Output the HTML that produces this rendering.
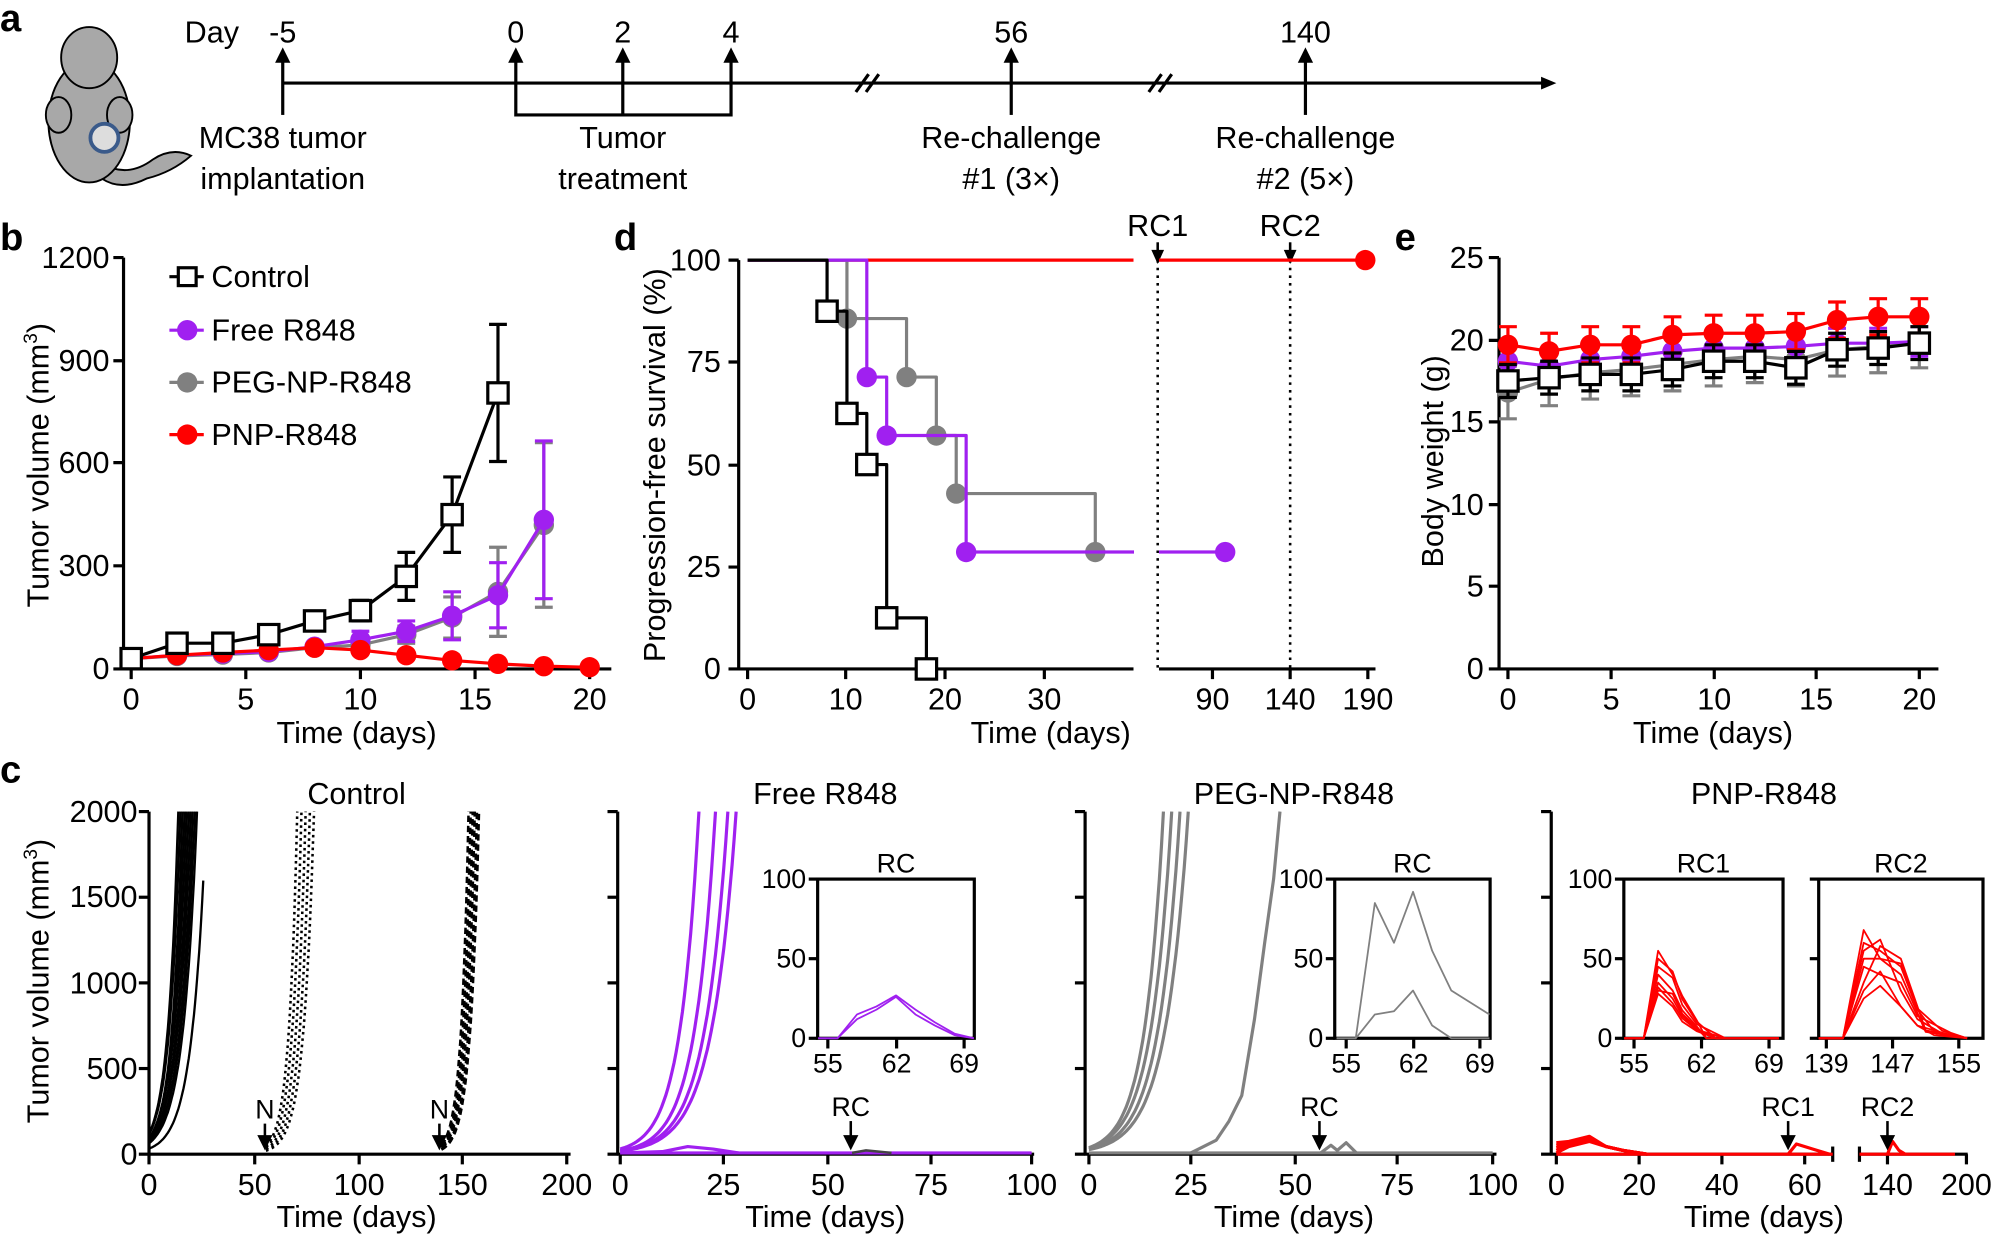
<!DOCTYPE html>
<html><head><meta charset="utf-8">
<style>
html,body{margin:0;padding:0;background:#fff;}
svg{display:block;}
text{font-family:"Liberation Sans",Arial,sans-serif;fill:#000;}
</style></head>
<body>
<svg id="s" width="1997" height="1236" viewBox="0 0 1568 970" xmlns="http://www.w3.org/2000/svg">
<g font-size="24">
<!-- Panel a -->
<text x="0" y="24" font-size="30" font-weight="bold">a</text>
<g stroke="#000" stroke-width="1.5">
<path d="M80,128 Q100,140 120,125 Q135,115 150,122 Q135,135 115,140 Q95,150 80,140z" fill="#a8a8a8"/>
<ellipse cx="70" cy="95" rx="32" ry="48" fill="#a8a8a8"/>
<ellipse cx="70" cy="45" rx="22" ry="24" fill="#a8a8a8"/>
<ellipse cx="46" cy="90" rx="10" ry="14" fill="#a8a8a8"/>
<ellipse cx="94" cy="90" rx="10" ry="14" fill="#a8a8a8"/>
</g>
<circle cx="82" cy="108" r="11" fill="#ddd" stroke="#3a5a8a" stroke-width="3"/>
<g stroke="#000" stroke-width="2.5" fill="none">
<line x1="222" y1="65" x2="1215" y2="65"/>
<line x1="222" y1="90" x2="222" y2="45"/>
<polyline points="405,45 405,90 574,90 574,45"/>
<line x1="489" y1="90" x2="489" y2="45"/>
<line x1="794" y1="90" x2="794" y2="45"/>
<line x1="1025" y1="90" x2="1025" y2="45"/>
<path d="M672,72 L682,58 M680,72 L690,58"/>
<path d="M902,72 L912,58 M910,72 L920,58"/>
</g>
<g fill="#000">
<path d="M1222,65 L1210,60 L1210,70 z"/>
<path d="M222,37 L216,49 L228,49 z"/><path d="M405,37 L399,49 L411,49 z"/><path d="M489,37 L483,49 L495,49 z"/><path d="M574,37 L568,49 L580,49 z"/><path d="M794,37 L788,49 L800,49 z"/><path d="M1025,37 L1019,49 L1031,49 z"/>
</g>
<text x="145" y="33">Day</text>
<g text-anchor="middle">
<text x="222" y="33">-5</text><text x="405" y="33">0</text><text x="489" y="33">2</text><text x="574" y="33">4</text><text x="794" y="33">56</text><text x="1025" y="33">140</text>
<text x="222" y="116">MC38 tumor</text><text x="222" y="148">implantation</text>
<text x="489" y="116">Tumor</text><text x="489" y="148">treatment</text>
<text x="794" y="116">Re-challenge</text><text x="794" y="148">#1 (3×)</text>
<text x="1025" y="116">Re-challenge</text><text x="1025" y="148">#2 (5×)</text>
</g>

<!-- Panel b -->
<text x="0" y="196" font-size="30" font-weight="bold">b</text>
<g stroke="#000" stroke-width="2.5" fill="none">
<polyline points="97,202 97,525 480,525"/>
<path d="M89,202h8M89,283h8M89,363h8M89,444h8M89,525h8"/>
<path d="M103,525v8M193,525v8M283,525v8M373,525v8M463,525v8"/>
</g>
<g text-anchor="end"><text x="86" y="210">1200</text><text x="86" y="291">900</text><text x="86" y="371">600</text><text x="86" y="452">300</text><text x="86" y="533">0</text></g>
<g text-anchor="middle"><text x="103" y="557">0</text><text x="193" y="557">5</text><text x="283" y="557">10</text><text x="373" y="557">15</text><text x="463" y="557">20</text>
<text x="280" y="583">Time (days)</text></g>
<text transform="translate(38,365) rotate(-90)" text-anchor="middle">Tumor volume (mm<tspan font-size="15" dy="-9">3</tspan><tspan dy="9">)</tspan></text>
<g id="bdata"></g>
<g>
<line x1="133" y1="217" x2="160" y2="217" stroke="#000" stroke-width="2.5"/><rect x="140" y="210" width="14" height="14" fill="#fff" stroke="#000" stroke-width="2.5"/><text x="166" y="225">Control</text>
<line x1="133" y1="259" x2="160" y2="259" stroke="#a020f0" stroke-width="2.5"/><circle cx="147" cy="259" r="8" fill="#a020f0"/><text x="166" y="267">Free R848</text>
<line x1="133" y1="300" x2="160" y2="300" stroke="#808080" stroke-width="2.5"/><circle cx="147" cy="300" r="8" fill="#808080"/><text x="166" y="308">PEG-NP-R848</text>
<line x1="133" y1="341" x2="160" y2="341" stroke="#f00" stroke-width="2.5"/><circle cx="147" cy="341" r="8" fill="#f00"/><text x="166" y="349">PNP-R848</text>
</g>

<!-- Panel d -->
<text x="482" y="196" font-size="30" font-weight="bold">d</text>
<g stroke="#000" stroke-width="2.5" fill="none">
<polyline points="580,204 580,525 890,525"/><line x1="910" y1="525" x2="1080" y2="525"/>
<path d="M572,204h8M572,284h8M572,365h8M572,445h8M572,525h8"/>
<path d="M587,525v8M664,525v8M742,525v8M820,525v8M952,525v8M1013,525v8M1074,525v8"/>
</g>
<g text-anchor="end"><text x="566" y="212">100</text><text x="566" y="292">75</text><text x="566" y="373">50</text><text x="566" y="453">25</text><text x="566" y="533">0</text></g>
<g text-anchor="middle"><text x="587" y="557">0</text><text x="664" y="557">10</text><text x="742" y="557">20</text><text x="820" y="557">30</text><text x="952" y="557">90</text><text x="1013" y="557">140</text><text x="1074" y="557">190</text>
<text x="825" y="583">Time (days)</text>
<text x="909" y="185">RC1</text><text x="1013" y="185">RC2</text></g>
<text transform="translate(522,365) rotate(-90)" text-anchor="middle">Progression-free survival (%)</text>
<g stroke="#000" stroke-width="2" stroke-dasharray="2,4"><line x1="909" y1="204" x2="909" y2="525"/><line x1="1013" y1="204" x2="1013" y2="525"/></g>
<g stroke="#000" stroke-width="2"><line x1="909" y1="190" x2="909" y2="200"/><line x1="1013" y1="190" x2="1013" y2="200"/></g>
<path d="M909,207 L904,196 L914,196z M1013,207 L1008,196 L1018,196z" fill="#000"/>
<g id="ddata"></g>

<!-- Panel e -->
<text x="1095" y="196" font-size="30" font-weight="bold">e</text>
<g stroke="#000" stroke-width="2.5" fill="none">
<polyline points="1177,202 1177,525 1522,525"/>
<path d="M1169,202h8M1169,267h8M1169,331h8M1169,396h8M1169,460h8M1169,525h8"/>
<path d="M1184,525v8M1265,525v8M1346,525v8M1426,525v8M1507,525v8"/>
</g>
<g text-anchor="end"><text x="1165" y="210">25</text><text x="1165" y="275">20</text><text x="1165" y="339">15</text><text x="1165" y="404">10</text><text x="1165" y="468">5</text><text x="1165" y="533">0</text></g>
<g text-anchor="middle"><text x="1184" y="557">0</text><text x="1265" y="557">5</text><text x="1346" y="557">10</text><text x="1426" y="557">15</text><text x="1507" y="557">20</text>
<text x="1345" y="583">Time (days)</text></g>
<text transform="translate(1133,362) rotate(-90)" text-anchor="middle">Body weight (g)</text>
<g id="edata"></g>

<!-- Panel c -->
<text x="0" y="614" font-size="30" font-weight="bold">c</text>
<text transform="translate(38,770) rotate(-90)" text-anchor="middle">Tumor volume (mm<tspan font-size="15" dy="-9">3</tspan><tspan dy="9">)</tspan></text>
<g text-anchor="middle">
<text x="280" y="631">Control</text><text x="648" y="631">Free R848</text><text x="1016" y="631">PEG-NP-R848</text><text x="1385" y="631">PNP-R848</text>
<text x="280" y="963">Time (days)</text><text x="648" y="963">Time (days)</text><text x="1016" y="963">Time (days)</text><text x="1385" y="963">Time (days)</text>
</g>
<g text-anchor="end"><text x="108" y="645">2000</text><text x="108" y="712">1500</text><text x="108" y="780">1000</text><text x="108" y="847">500</text><text x="108" y="914">0</text></g>
<g id="cdata"></g>
</g>
</svg>
<script>
const NS="http://www.w3.org/2000/svg";
function el(par,tag,attrs,txt){const e=document.createElementNS(NS,tag);for(const k in attrs)e.setAttribute(k,attrs[k]);if(txt!==undefined)e.textContent=txt;document.getElementById(par).appendChild(e);return e;}
function pl(par,pts,col,w,extra){const a={points:pts.map(p=>p[0].toFixed(1)+","+p[1].toFixed(1)).join(" "),fill:"none",stroke:col,"stroke-width":w||2.5,"stroke-linejoin":"round"};Object.assign(a,extra||{});return el(par,"polyline",a);}
// Panel b
const bx=d=>103+18*d, by=v=>525-v*0.2692;
function bser(data,col,marker,errs){
  errs.forEach(([d,v,e])=>{ if(e>0){el("bdata","line",{x1:bx(d),y1:by(v-e),x2:bx(d),y2:by(v+e),stroke:col,"stroke-width":2.5});[v-e,v+e].forEach(y=>el("bdata","line",{x1:bx(d)-7,y1:by(y),x2:bx(d)+7,y2:by(y),stroke:col,"stroke-width":2.5}));}});
  pl("bdata",data.map(([d,v])=>[bx(d),by(v)]),col,2.5);
  data.forEach(([d,v])=>{ if(marker==="sq") el("bdata","rect",{x:bx(d)-8,y:by(v)-8,width:16,height:16,fill:"#fff",stroke:col,"stroke-width":2.5}); else el("bdata","circle",{cx:bx(d),cy:by(v),r:8,fill:col});});
}
const peg=[[0,30],[2,38],[4,42],[6,48],[8,62],[10,70],[12,100],[14,150],[16,225],[18,420]];
bser(peg,"#808080","c",[[12,100,25],[14,150,60],[16,225,130],[18,420,240]]);
const fr=[[0,30],[2,40],[4,45],[6,50],[8,65],[10,85],[12,110],[14,155],[16,215],[18,435]];
bser(fr,"#a020f0","c",[[10,85,25],[12,110,30],[14,155,70],[16,215,95],[18,435,230]]);
const pn=[[0,30],[2,40],[4,48],[6,55],[8,62],[10,55],[12,40],[14,25],[16,15],[18,8],[20,5]];
bser(pn,"#ff0000","c",[]);
const ct=[[0,30],[2,75],[4,75],[6,100],[8,140],[10,170],[12,270],[14,450],[16,805]];
bser(ct,"#000","sq",[[10,170,30],[12,270,70],[14,450,110],[16,805,200]]);
// Panel d
const dx=d=>587+7.8*d, dy=p=>525-p*3.21;
function steps(arr){const pts=[];for(let i=0;i<arr.length;i++){const [d,p]=arr[i];if(i>0)pts.push([dx(d),dy(arr[i-1][1])]);pts.push([dx(d),dy(p)]);}return pts;}
pl("ddata",[[587,dy(100)],[890,dy(100)]],"#f00",2.5);pl("ddata",[[910,dy(100)],[1072,dy(100)]],"#f00",2.5);el("ddata","circle",{cx:1072,cy:dy(100),r:8,fill:"#f00"});
const g=[[0,100],[10,85.7],[16,71.4],[19,57.1],[21,42.9],[35,28.6]];
pl("ddata",steps(g),"#808080",2.5);g.slice(1).forEach(([d,p])=>el("ddata","circle",{cx:dx(d),cy:dy(p),r:8,fill:"#808080"}));
const pu=[[0,100],[12,71.4],[14,57.1],[22,28.6],[38.9,28.6]];
pl("ddata",steps(pu),"#a020f0",2.5);pl("ddata",[[910,dy(28.6)],[962,dy(28.6)]],"#a020f0",2.5);
[[12,71.4],[14,57.1],[22,28.6]].forEach(([d,p])=>el("ddata","circle",{cx:dx(d),cy:dy(p),r:8,fill:"#a020f0"}));el("ddata","circle",{cx:962,cy:dy(28.6),r:8,fill:"#a020f0"});
const c=[[0,100],[8,87.5],[10,62.5],[12,50],[14,12.5],[18,0]];
pl("ddata",steps(c),"#000",2.5);c.slice(1).forEach(([d,p])=>el("ddata","rect",{x:dx(d)-8,y:dy(p)-8,width:16,height:16,fill:"#fff",stroke:"#000","stroke-width":2.5}));
// Panel e
const ex=d=>1184+16.15*d, ey=w=>525-w*12.92;
const days=[0,2,4,6,8,10,12,14,16,18,20];
function eser(vals,col,marker,err){
  days.forEach((d,i)=>{el("edata","line",{x1:ex(d),y1:ey(vals[i]-err),x2:ex(d),y2:ey(vals[i]+err),stroke:col,"stroke-width":2.5});[vals[i]-err,vals[i]+err].forEach(y=>el("edata","line",{x1:ex(d)-7,y1:ey(y),x2:ex(d)+7,y2:ey(y),stroke:col,"stroke-width":2.5}));});
  pl("edata",days.map((d,i)=>[ex(d),ey(vals[i])]),col,2.5);
  days.forEach((d,i)=>{if(marker==="sq")el("edata","rect",{x:ex(d)-8,y:ey(vals[i])-8,width:16,height:16,fill:"#fff",stroke:col,"stroke-width":2.5});else el("edata","circle",{cx:ex(d),cy:ey(vals[i]),r:8,fill:col});});
}
eser([16.8,17.6,18,18.2,18.5,18.8,19,18.8,19.4,19.6,19.9],"#808080","c",1.6);
eser([18.7,18.4,18.8,19,19.3,19.5,19.5,19.6,19.8,19.8,19.9],"#a020f0","c",0.9);
eser([19.7,19.3,19.7,19.7,20.3,20.4,20.4,20.5,21.2,21.4,21.4],"#f00","c",1.1);
eser([17.5,17.7,17.9,17.9,18.2,18.7,18.7,18.3,19.4,19.5,19.8],"#000","sq",1.0);
// Panel c
const cy0=906, cyv=v=>906-v*0.1345;
function axes(x0,ticksX,labels,xend){
  pl("cdata",[[x0,637],[x0,cy0],[xend,cy0]],"#000",2.5);
  [0,500,1000,1500,2000].forEach(v=>el("cdata","line",{x1:x0-8,y1:cyv(v),x2:x0,y2:cyv(v),stroke:"#000","stroke-width":2.5}));
  ticksX.forEach((t,i)=>{el("cdata","line",{x1:t,y1:cy0,x2:t,y2:cy0+8,stroke:"#000","stroke-width":2.5});el("cdata","text",{x:t,y:938,"text-anchor":"middle"},labels[i]);});
}
axes(117,[117,200,282,363,445],["0","50","100","150","200"],448);
axes(485,[487,568,650,731,810],["0","25","50","75","100"],812);
axes(852,[855,935,1017,1097,1172],["0","25","50","75","100"],1175);
pl("cdata",[[1218,637],[1218,cy0],[1439,cy0]],"#000",2.5);pl("cdata",[[1460,cy0],[1545,cy0]],"#000",2.5);
[0,500,1000,1500,2000].forEach(v=>el("cdata","line",{x1:1210,y1:cyv(v),x2:1218,y2:cyv(v),stroke:"#000","stroke-width":2.5}));
[[1222,"0"],[1287,"20"],[1352,"40"],[1417,"60"],[1482,"140"],[1544,"200"]].forEach(([t,l])=>{el("cdata","line",{x1:t,y1:cy0,x2:t,y2:cy0+8,stroke:"#000","stroke-width":2.5});el("cdata","text",{x:t,y:938,"text-anchor":"middle"},l);});
el("cdata","line",{x1:1439,y1:cy0-6,x2:1439,y2:cy0+6,stroke:"#000","stroke-width":2.5});el("cdata","line",{x1:1460,y1:cy0-6,x2:1460,y2:cy0+6,stroke:"#000","stroke-width":2.5});
function growth(x0,sx,t0,tend,V0,k,col,w,dash,cap){
  const pts=[];for(let t=t0;t<=tend+1e-6;t+=0.5){let v=V0*Math.exp(k*(t-t0));let capped=false;if(v>=(cap||2000)){v=(cap||2000);capped=true;}pts.push([x0+sx*t,cyv(v)]);if(capped)break;}
  pl("cdata",pts,col,w,dash?{"stroke-dasharray":dash}:{});
}
// control
[[14,0.2],[15,0.19],[16,0.2],[17,0.18],[18,0.17],[19,0.17],[20,0.16],[21,0.16],[22,0.15],[23,0.15]].forEach(([te,k])=>{const V0=2000/Math.exp(k*te);growth(117,1.64,0,te,V0,k,"#000",1.8);});
growth(117,1.64,0,26,2000/Math.exp(0.15*27.5),0.15,"#000",1.8);
[[71,0.25],[73,0.23],[75,0.22],[77,0.21],[79,0.2]].forEach(([te,k])=>{const V0=2000/Math.exp(k*(te-56));growth(117,1.64,56,te,V0,k,"#000",2,"2,3");});
[[153,0.28],[154,0.27],[155,0.26],[156,0.25],[157,0.25],[158,0.24]].forEach(([te,k])=>{const V0=2000/Math.exp(k*(te-140));growth(117,1.64,140,te,V0,k,"#000",2,"5,3");});
function arrow(x,ytop,ybot,label){el("cdata","line",{x1:x,y1:ytop,x2:x,y2:ybot-8,stroke:"#000","stroke-width":2});el("cdata","path",{d:`M${x},${ybot} L${x-6},${ybot-12} L${x+6},${ybot-12}z`,fill:"#000"});el("cdata","text",{x:x,y:ytop-4,"text-anchor":"middle","font-size":"21"},label);}
arrow(208,882,903,"N");arrow(345,882,903,"N");
// Free R848
pl("cdata",[[487,905],[810,905]],"#a020f0",2.5);
[[19,0.22],[23,0.2],[26,0.18],[28,0.17]].forEach(([te,k])=>{const V0=2000/Math.exp(k*te);growth(487,3.25,0,te,Math.max(V0,15),k,"#a020f0",2.5);});
pl("cdata",[[487,905],[520,904],[540,900],[560,902],[580,905]],"#a020f0",2.5);
pl("cdata",[[669,905],[680,903],[690,904],[700,905]],"#444",2);
arrow(668,880,903,"RC");
// PEG
pl("cdata",[[855,905],[1172,905]],"#808080",2.5);
[[18,0.22],[20,0.2],[22,0.19],[24,0.18]].forEach(([te,k])=>{const V0=2000/Math.exp(k*te);growth(855,3.25,0,te,Math.max(V0,5),k,"#808080",2.5);});
pl("cdata",[[935,905],[945,900],[955,895],[965,880],[975,860],[985,800],[993,740],[1000,690],[1005,637]],"#808080",2.5);
pl("cdata",[[1037,905],[1045,899],[1050,903],[1057,897],[1065,905]],"#808080",2.5);
arrow(1036,880,903,"RC");
// PNP
const rx=d=>1222+3.25*d;
for(let j=0;j<5;j++){pl("cdata",[[rx(0),905-2*j],[rx(3),900-j],[rx(8),896-j],[rx(12),900],[rx(16),903],[rx(22),906]],"#f00",2.5);}
pl("cdata",[[1222,906],[1439,906]],"#f00",2.5);pl("cdata",[[1460,906],[1535,906]],"#f00",2.5);
pl("cdata",[[rx(56),906],[rx(58),898],[rx(62),902],[rx(66),906]],"#f00",2.5);
pl("cdata",[[1482,906],[1486,896],[1491,903],[1496,906]],"#f00",2.5);
arrow(1404,880,903,"RC1");arrow(1482,880,903,"RC2");
// insets
function inset(x0,x1,title,ticks,tl,lines,col,labelsY){
  el("cdata","rect",{x:x0,y:690,width:x1-x0,height:125,fill:"#fff",stroke:"#000","stroke-width":2.5});
  el("cdata","text",{x:(x0+x1)/2,y:685,"text-anchor":"middle","font-size":"21"},title);
  [0,50,100].forEach(v=>{const y=815-v*1.25;el("cdata","line",{x1:x0-7,y1:y,x2:x0,y2:y,stroke:"#000","stroke-width":2.5});if(labelsY)el("cdata","text",{x:x0-9,y:y+7,"text-anchor":"end","font-size":"21"},String(v));});
  ticks.forEach((t,i)=>{el("cdata","line",{x1:t[0],y1:815,x2:t[0],y2:823,stroke:"#000","stroke-width":2.5});el("cdata","text",{x:t[0],y:842,"text-anchor":"middle","font-size":"21"},tl[i]);});
  const P0=ticks[0][0],D0=ticks[0][1],P1=ticks[ticks.length-1][0],D1=ticks[ticks.length-1][1];
  const clip=x=>Math.max(x0,Math.min(x1,x));
  lines.forEach(L=>pl("cdata",L.map(([d,v])=>[clip(P0+(d-D0)*(P1-P0)/(D1-D0)),815-v*1.25]),col,1.4));
}
inset(642,765,"RC",[[650,55],[704,62],[757,69]],["55","62","69"],[[[54,0],[56,0],[58,12],[60,18],[62,26],[64,15],[66,8],[68,2],[70,0]],[[54,0],[56,0],[58,15],[60,20],[62,27],[64,18],[66,10],[68,3],[70,0]]],"#a020f0",true);
inset(1048,1170,"RC",[[1057,55],[1110,62],[1162,69]],["55","62","69"],[[[54,0],[56,0],[58,85],[60,60],[62,92],[64,55],[66,30],[70,15]],[[54,0],[56,0],[58,15],[60,17],[62,30],[64,8],[66,0],[70,0]]],"#808080",true);
const r1=[];[[55,40,38],[50,42,35],[45,38,30],[40,30,25],[35,25,20],[32,22,18],[30,28,22],[28,20,15]].forEach(([a,b,c2],i)=>r1.push([[54,0],[56,0],[57.5,a],[59,b],[60,c2*0.7],[61.5,c2*0.3],[62.5+i%3,0],[70,0]]));
inset(1275,1400,"RC1",[[1283,55],[1336,62],[1389,69]],["55","62","69"],r1,"#f00",true);
const r2=[];[[68,50,40],[60,55,45],[55,62,30],[45,40,35],[35,58,50],[30,42,20],[50,50,47],[25,33,20]].forEach(([a,b,c2],i)=>r2.push([[138,0],[141,0],[143.5,a],[145.5,b],[148,c2],[150,c2*0.4],[151+i%4,c2*0.1],[156,0]]));
inset(1428,1557,"RC2",[[1434,139],[1486,147],[1538,155]],["139","147","155"],r2,"#f00",false);
</script>
</body></html>
